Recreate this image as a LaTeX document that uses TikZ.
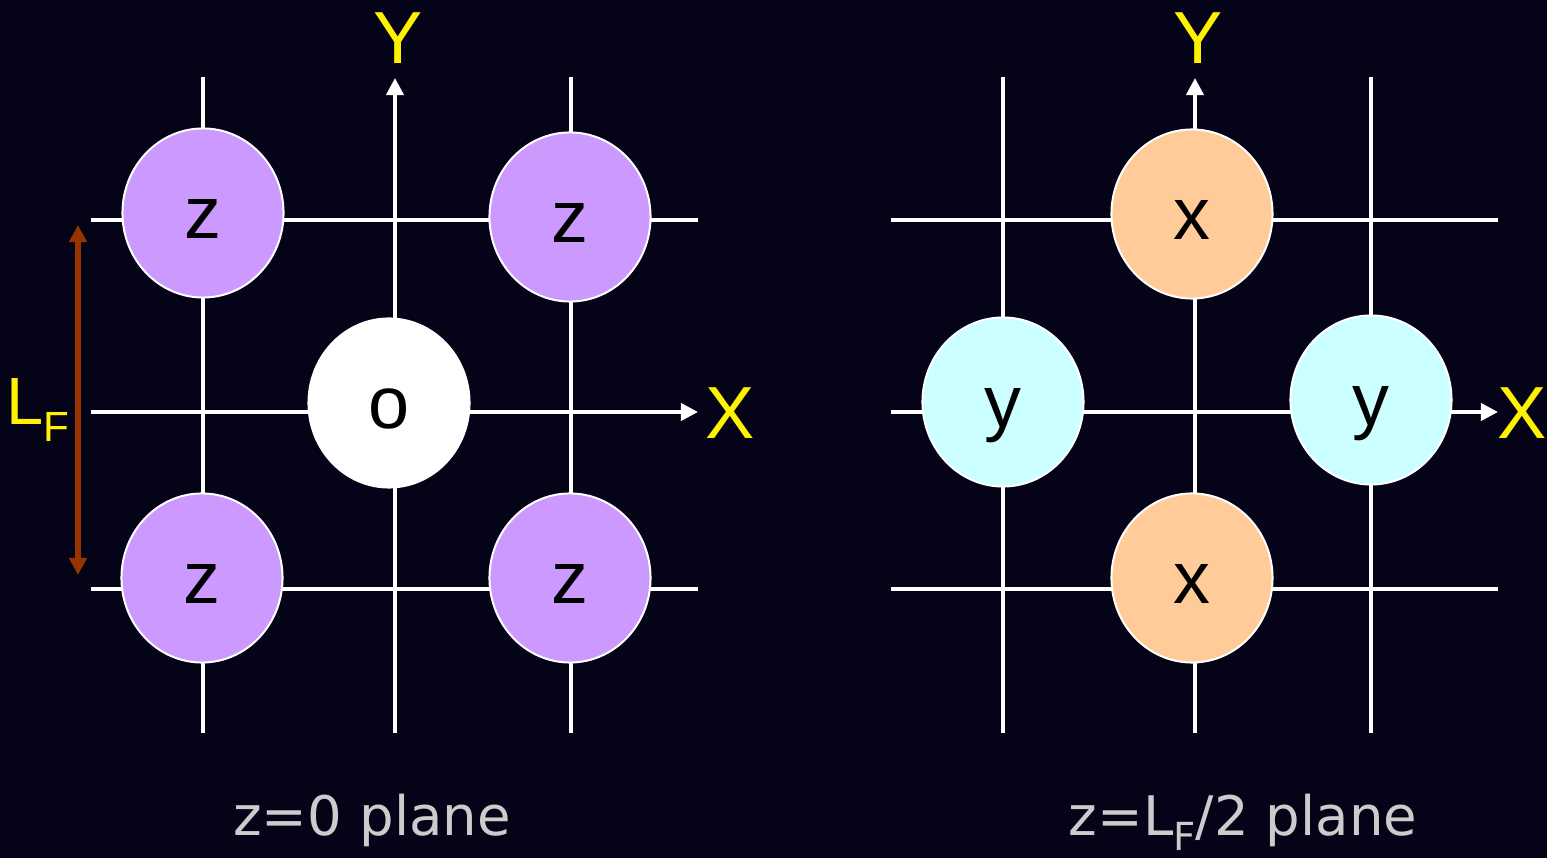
\documentclass[tikz,border=0pt]{standalone}
\usepackage{fontspec}
\setmainfont{Liberation Sans}
\newfontfamily\capfont{DejaVu Sans}
\usepackage{tikz}
\usepackage{xcolor}
\usetikzlibrary{arrows.meta,shapes.geometric}
\definecolor{bgnavy}{RGB}{5,3,23}
\definecolor{zpurple}{RGB}{204,153,255}
\definecolor{xpeach}{RGB}{255,204,153}
\definecolor{ycyan}{RGB}{204,255,255}
\definecolor{lfbrown}{RGB}{153,51,0}
\definecolor{capgray}{RGB}{204,204,204}

\begin{document}
\begin{tikzpicture}[x=0.01cm,y=-0.01cm,
grid/.style={white,line width=0.04cm},
axis/.style={grid,-{Triangle[length=0.17cm,width=0.17cm]}},
atom/.style={ellipse,draw=white,line width=0.02cm,minimum width=1.61cm,minimum height=1.69cm,inner sep=0pt,text height=0.5cm,text depth=0pt,font=\fontsize{21}{21}\selectfont},
zatom/.style={atom,fill=zpurple},
xatom/.style={atom,fill=xpeach},
yatom/.style={atom,fill=ycyan},
oatom/.style={atom,fill=white},
axlabel/.style={yellow,font=\fontsize{21}{21}\selectfont},
plane/.style={capgray,anchor=base,font=\capfont\fontsize{15.5}{15.5}\selectfont}]
\useasboundingbox(0,0)rectangle(1547,858);
\fill[bgnavy](0,0)rectangle(1547,858);
% z=0 plane
\foreach \x in {203,571}\draw[grid](\x,77)--(\x,733);
\foreach \y in {220,589}\draw[grid](91,\y)--(698,\y);
\coordinate(ly0)at(395,733);\coordinate(ly1)at(395,78);
\coordinate(lx0)at(91,412);\coordinate(lx1)at(698,412);
\draw[axis](ly0)--(ly1);
\draw[axis](lx0)--(lx1);
\node[zatom](z1)at(203,213){z};
\node[zatom](z2)at(570,217){z};
\node[oatom](o1)at(389,403){o};
\node[zatom](z3)at(202,578){z};
\node[zatom](z4)at(570,578){z};
\node[axlabel](ly)at(398,38){Y};
\node[axlabel](lx)at(730,413){X};
\coordinate(lf0)at(78,225);\coordinate(lf1)at(78,575);
\draw[lfbrown,line width=0.05cm,{Triangle[length=0.17cm,width=0.17cm]}-{Triangle[length=0.17cm,width=0.17cm]}](lf0)--(lf1);
\node[yellow,font=\fontsize{19}{19}\selectfont](lf)at(38,410){L\raisebox{-5pt}{\fontsize{12}{12}\selectfont F}};
\node[plane](cap1)at(372,836){z=0 plane};
% z=LF/2 plane
\foreach \x in {1003,1371}\draw[grid](\x,77)--(\x,733);
\foreach \y in {220,589}\draw[grid](891,\y)--(1498,\y);
\coordinate(ry0)at(1195,733);\coordinate(ry1)at(1195,78);
\coordinate(rx0)at(891,412);\coordinate(rx1)at(1498,412);
\draw[axis](ry0)--(ry1);
\draw[axis](rx0)--(rx1);
\node[xatom](x1)at(1192,214){x};
\node[xatom](x2)at(1192,578){x};
\node[yatom](y1)at(1003,402){y};
\node[yatom](y2)at(1371,400){y};
\node[axlabel](ry)at(1198,38){Y};
\node[axlabel](rx)at(1522,413){X};
\node[plane](cap2)at(1243,836){z=L\raisebox{-4pt}{\fontsize{11}{11}\selectfont F}/2 plane};
\end{tikzpicture}
\end{document}
